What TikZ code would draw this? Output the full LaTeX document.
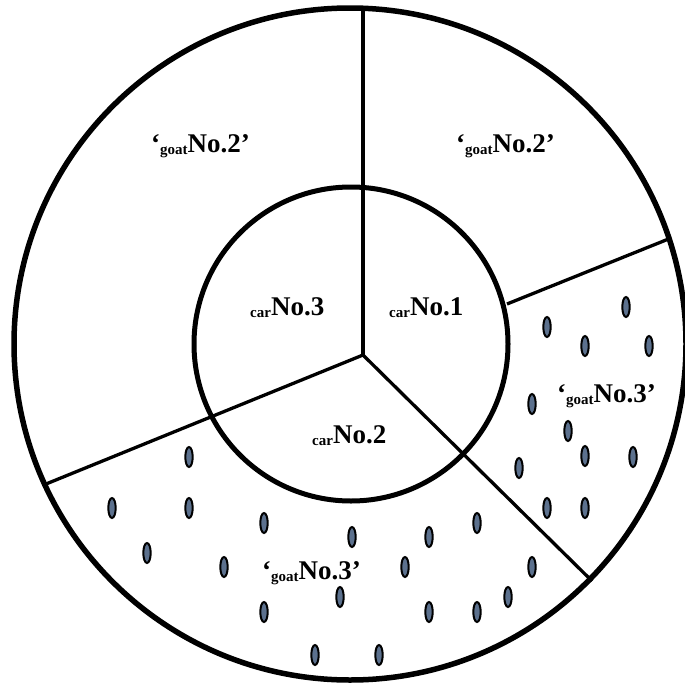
\documentclass[tikz,border=0pt]{standalone}
\usepackage{fontspec}
\setmainfont{Liberation Serif}
\definecolor{seedfill}{RGB}{92,113,142}
\newcommand{\smallword}[1]{\raisebox{-2pt}{\fontsize{15}{15}\selectfont #1}}
\begin{document}
\begin{tikzpicture}[x=1pt,y=-1pt,
  ring/.style={line width=5.5pt},
  innerring/.style={line width=5pt},
  divider/.style={line width=3.3pt},
  seed/.style={fill=seedfill,draw=black,line width=2pt},
  lbl/.style={anchor=base west,inner sep=0pt,font=\bfseries\fontsize{27}{27}\selectfont}]
\useasboundingbox (0,0) rectangle (685,688);
\fill[white] (0,0) rectangle (685,688);
% key points
\coordinate (c) at (350,344);
\coordinate (hub) at (363,355);
\coordinate (top) at (363,8);
\coordinate (ll) at (46,484);
\coordinate (lr) at (592,581);
\coordinate (ura) at (507,304);
\coordinate (urb) at (671,238);
% seeds
\foreach \p in {(626,307),(547,327),(585,346),(649,346),(532,404),(568,431),(585,456),(633,457),(519,468),(547,508),(585,508),
  (189,457),(112,508),(189,508),(264,523),(147,553),(224,567),(352,537),(429,537),(477,523),(405,567),(532,567),(264,612),(340,597),(429,612),(477,612),(508,597),(315,655),(379,655)}
  \draw[seed] \p ellipse [x radius=3.7pt, y radius=10pt];
% dividers
\draw[divider] (top) -- (hub);
\draw[divider] (hub) -- (ll);
\draw[divider] (hub) -- (lr);
\draw[divider] (ura) -- (urb);
% circles
\draw[ring] (c) circle [radius=336pt];
\draw[innerring] (351,344) circle [radius=157pt];
% labels
\node[lbl] (g1) at (151,152) {‘\smallword{goat}No.2’};
\node[lbl] (g2) at (456,152) {‘\smallword{goat}No.2’};
\node[lbl] (c3) at (250,315) {\smallword{car}No.3};
\node[lbl] (c1) at (389,315) {\smallword{car}No.1};
\node[lbl] (c2) at (312,443) {\smallword{car}No.2};
\node[lbl] (g3) at (557,402) {‘\smallword{goat}No.3’};
\node[lbl] (g4) at (262,579) {‘\smallword{goat}No.3’};
\end{tikzpicture}
\end{document}
